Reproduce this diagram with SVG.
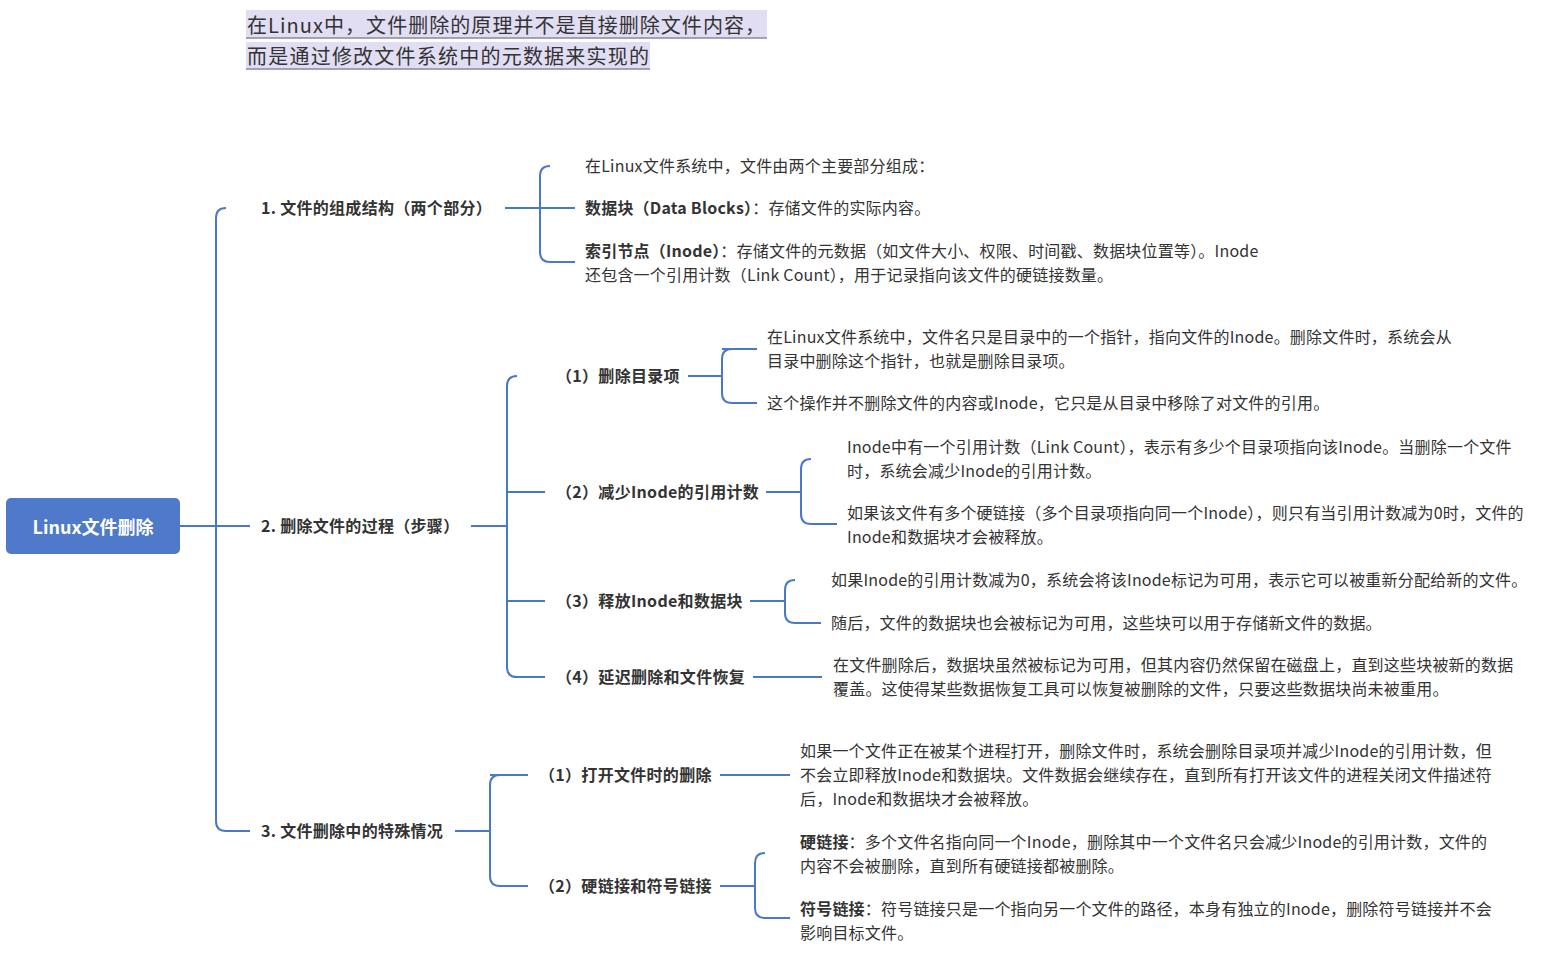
<svg xmlns="http://www.w3.org/2000/svg" width="1558" height="955" viewBox="0 0 1558 955">
<style>
text{font-family:"Noto Sans CJK SC","Noto Sans",sans-serif;fill:#333}
.l{font-size:16px;letter-spacing:0.2px}
.b{font-size:16px;font-weight:bold;letter-spacing:0.3px}
.c{fill:none;stroke:#4a78c8;stroke-width:2}
</style>
<rect width="1558" height="955" fill="#fff"/>
<g id="note">
<rect x="246" y="10" width="521" height="28" fill="#e1ddf3"/>
<rect x="246" y="42" width="404" height="27" fill="#e1ddf3"/>
<line x1="246" y1="38" x2="767" y2="38" stroke="#8a86a0" stroke-width="1.5"/>
<line x1="246" y1="69" x2="650" y2="69" stroke="#8a86a0" stroke-width="1.5"/>
<text x="247" y="33" style="font-size:20px" textLength="518">在Linux中，文件删除的原理并不是直接删除文件内容，</text>
<text x="247" y="64" style="font-size:20px" textLength="402">而是通过修改文件系统中的元数据来实现的</text>
</g>
<g id="connectors">
<path class="c" d="M180 526H250M226 208Q216 208 216 218V821Q216 831 226 831H250"/>
<path class="c" d="M505 208H575M550 166Q540 166 540 176V252Q540 262 550 262H575"/>
<path class="c" d="M471 526H507M517 376Q507 376 507 386V667Q507 677 517 677H545M507 492H545M507 601H545"/>
<path class="c" d="M688 376H722M732 349Q722 349 722 359V393Q722 403 732 403H757M722 349H757"/>
<path class="c" d="M766 492H801M811 459Q801 459 801 469V514Q801 524 811 524H837"/>
<path class="c" d="M750 601H785M795 580Q785 580 785 590V613Q785 623 795 623H821"/>
<path class="c" d="M753 677H822"/>
<path class="c" d="M455 831H490M500 775Q490 775 490 785V876Q490 886 500 886H528M490 775H528"/>
<path class="c" d="M720 775H790"/>
<path class="c" d="M720 886H755M765 853Q755 853 755 863V908Q755 918 765 918H790"/>
</g>
<g id="root">
<rect x="6" y="498" width="174" height="56" rx="5" fill="#4f7ac9"/>
<text x="93" y="534" text-anchor="middle" style="font-size:18px;font-weight:bold;fill:#fff">Linux文件删除</text>
</g>
<g id="b1">
<text class="b" x="261" y="214">1. 文件的组成结构（两个部分）</text>
<text class="l" x="585" y="172">在Linux文件系统中，文件由两个主要部分组成：</text>
<text class="l" x="585" y="214"><tspan font-weight="bold">数据块（Data Blocks）</tspan>：存储文件的实际内容。</text>
<text class="l" x="585" y="257"><tspan font-weight="bold">索引节点（Inode）</tspan>：存储文件的元数据（如文件大小、权限、时间戳、数据块位置等）。Inode</text>
<text class="l" x="585" y="281">还包含一个引用计数（Link Count），用于记录指向该文件的硬链接数量。</text>
</g>
<g id="b2">
<text class="b" x="261" y="532">2. 删除文件的过程（步骤）</text>
<text class="b" x="556" y="382">（1）删除目录项</text>
<text class="l" x="767" y="343">在Linux文件系统中，文件名只是目录中的一个指针，指向文件的Inode。删除文件时，系统会从</text>
<text class="l" x="767" y="367">目录中删除这个指针，也就是删除目录项。</text>
<text class="l" x="767" y="409">这个操作并不删除文件的内容或Inode，它只是从目录中移除了对文件的引用。</text>
<text class="b" x="556" y="498">（2）减少Inode的引用计数</text>
<text class="l" x="847" y="453">Inode中有一个引用计数（Link Count），表示有多少个目录项指向该Inode。当删除一个文件</text>
<text class="l" x="847" y="477">时，系统会减少Inode的引用计数。</text>
<text class="l" x="847" y="519">如果该文件有多个硬链接（多个目录项指向同一个Inode），则只有当引用计数减为0时，文件的</text>
<text class="l" x="847" y="543">Inode和数据块才会被释放。</text>
<text class="b" x="556" y="607">（3）释放Inode和数据块</text>
<text class="l" x="831" y="586">如果Inode的引用计数减为0，系统会将该Inode标记为可用，表示它可以被重新分配给新的文件。</text>
<text class="l" x="831" y="629">随后，文件的数据块也会被标记为可用，这些块可以用于存储新文件的数据。</text>
<text class="b" x="556" y="683">（4）延迟删除和文件恢复</text>
<text class="l" x="833" y="671">在文件删除后，数据块虽然被标记为可用，但其内容仍然保留在磁盘上，直到这些块被新的数据</text>
<text class="l" x="833" y="695">覆盖。这使得某些数据恢复工具可以恢复被删除的文件，只要这些数据块尚未被重用。</text>
</g>
<g id="b3">
<text class="b" x="261" y="837">3. 文件删除中的特殊情况</text>
<text class="b" x="539" y="781">（1）打开文件时的删除</text>
<text class="l" x="800" y="757">如果一个文件正在被某个进程打开，删除文件时，系统会删除目录项并减少Inode的引用计数，但</text>
<text class="l" x="800" y="781">不会立即释放Inode和数据块。文件数据会继续存在，直到所有打开该文件的进程关闭文件描述符</text>
<text class="l" x="800" y="805">后，Inode和数据块才会被释放。</text>
<text class="b" x="539" y="892">（2）硬链接和符号链接</text>
<text class="l" x="800" y="848"><tspan font-weight="bold">硬链接</tspan>：多个文件名指向同一个Inode，删除其中一个文件名只会减少Inode的引用计数，文件的</text>
<text class="l" x="800" y="872">内容不会被删除，直到所有硬链接都被删除。</text>
<text class="l" x="800" y="915"><tspan font-weight="bold">符号链接</tspan>：符号链接只是一个指向另一个文件的路径，本身有独立的Inode，删除符号链接并不会</text>
<text class="l" x="800" y="939">影响目标文件。</text>
</g>
</svg>
